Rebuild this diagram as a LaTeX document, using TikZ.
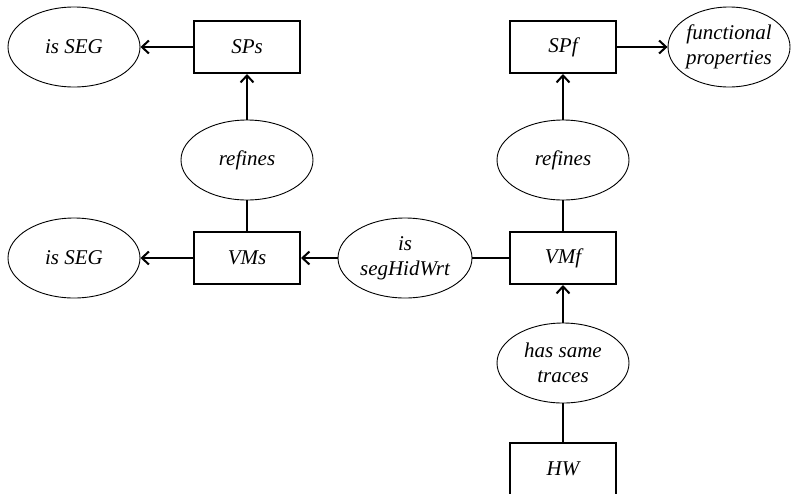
\documentclass[tikz,border=0pt]{standalone}
\usepackage{fontspec}
\setmainfont{Liberation Serif}
\usetikzlibrary{shapes.geometric,arrows.meta}
\begin{document}
\begin{tikzpicture}[x=1pt,y=-1pt,
  every node/.style={font=\fontsize{21}{25}\selectfont\itshape, align=center},
  boxnode/.style={draw, line width=2pt, minimum width=106pt, minimum height=52pt, inner sep=0pt},
  propnode/.style={draw, ellipse, line width=0.9pt, minimum width=132pt, minimum height=80pt, inner sep=0pt},
  link/.style={line width=2pt},
  arrowlink/.style={link, -{Straight Barb[length=7pt,width=13pt,line width=2pt]}}]
\useasboundingbox (0,0) rectangle (791,493);
% specification layer
\node[boxnode] (sps) at (247,47) {SPs};
\node[boxnode] (spf) at (563,47) {SPf};
\node[propnode] (seg1) at (74,47) {is SEG};
\node[propnode, minimum width=122pt] (func) at (729,47) {functional\\properties};
% refinement relations
\node[propnode] (ref1) at (247,160) {refines};
\node[propnode] (ref2) at (563,160) {refines};
% virtual machine layer
\node[boxnode] (vms) at (247,258) {VMs};
\node[boxnode] (vmf) at (563,258) {VMf};
\node[propnode] (seg2) at (74,258) {is SEG};
\node[propnode, minimum width=134pt] (hid) at (405,258) {is\\segHidWrt};
% hardware layer
\node[propnode] (traces) at (563,363) {has same\\traces};
\node[minimum width=106pt, minimum height=52pt, inner sep=0pt] (hw) at (563,469) {HW};
\draw[line width=2pt] (hw.south west) -- (hw.north west) -- (hw.north east) -- (hw.south east);
% connectors
\draw[arrowlink] (sps) -- (seg1);
\draw[arrowlink] (ref1) -- (sps);
\draw[link] (ref1) -- (vms);
\draw[arrowlink] (vms) -- (seg2);
\draw[arrowlink] (hid) -- (vms);
\draw[link] (vmf) -- (hid);
\draw[link] (vmf) -- (ref2);
\draw[arrowlink] (ref2) -- (spf);
\draw[arrowlink] (spf) -- (func);
\draw[arrowlink] (traces) -- (vmf);
\draw[link] (hw) -- (traces);
\end{tikzpicture}
\end{document}
